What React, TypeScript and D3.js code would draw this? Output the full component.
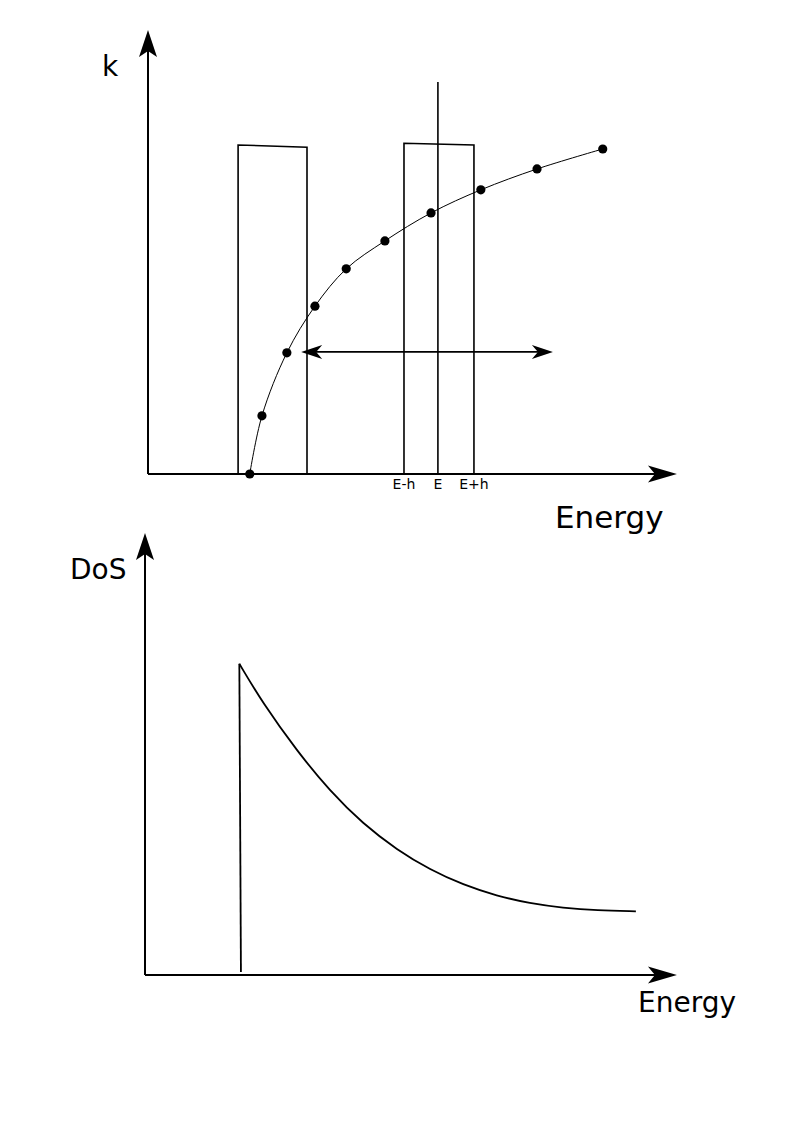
import React from 'react'
import * as d3 from 'd3'

// k(E) dispersion samples (energy, k)
const bandEnergy = [1.92, 2.15, 2.62, 3.15, 3.74, 4.47, 5.34, 6.28, 7.34, 8.58]
const bandK = [0, 1.31, 2.73, 3.78, 4.62, 5.25, 5.88, 6.4, 6.87, 7.32]

// the two energy windows drawn as open boxes
const windowLeft = [1.7, 4.83]
const windowRight = [3.0, 6.15]
const windowTopL = [7.41, 7.45]
const windowTopR = [7.36, 7.41]

const eLine = { at: 5.47, top: 8.83 }
const windowTicks = ['E-h', 'E', 'E+h']
const windowTickAt = [4.83, 5.47, 6.15]

const sweepArrow = { from: 2.89, to: 7.64, k: 2.75 }

// density of states samples (energy, DoS)
const dosEnergy = [1.77, 2.21, 2.85, 3.47, 4.09, 4.73, 5.35, 5.97, 6.6, 7.22, 7.84, 8.48, 9.21]
const dosValue = [7.04, 6.15, 5.07, 4.16, 3.42, 2.83, 2.38, 2.04, 1.79, 1.62, 1.52, 1.46, 1.44]
const dosEdge = { e: 1.8, v: 0.07 }

const font = 'DejaVu Sans, sans-serif'

// concave arrowhead, tip at (tx,ty) pointing in direction ang (radians)
function head(tx: number, ty: number, ang: number, len: number, half: number, notch: number) {
  const c = Math.cos(ang), s = Math.sin(ang)
  const p = (a: number, b: number) => [tx + a * c - b * s, ty + a * s + b * c]
  const pts = [p(0, 0), p(-len, -half), p(-notch, 0), p(-len, half)]
  return 'M' + pts.map(q => q.join(',')).join('L') + 'Z'
}

function TopChart() {
  const x = d3.scaleLinear().domain([0, 10]).range([148, 678])
  const y = d3.scaleLinear().domain([0, 10]).range([474, 30])

  const pts = bandEnergy.map((e, i) => [e, bandK[i]] as [number, number])
  const curve = d3.line<[number, number]>()
    .x(d => x(d[0]))
    .y(d => y(d[1]))
    .curve(d3.curveCatmullRom.alpha(0.5))(pts)

  return (
    <g>
      {/* axes */}
      <line x1={x(0)} y1={y(0)} x2={x(0)} y2={y(10) + 20} stroke="#000" strokeWidth={2} />
      <path d={head(x(0), y(10), -Math.PI / 2, 27, 9, 21)} fill="#000" />
      <line x1={x(0)} y1={y(0)} x2={x(10) - 20} y2={y(0)} stroke="#000" strokeWidth={2} />
      <path d={head(x(9.98), y(0), 0, 29, 8.5, 22)} fill="#000" />

      {/* windows */}
      {windowLeft.map((l, i) => (
        <path key={i}
          d={`M${x(l)},${y(0)}L${x(l)},${y(windowTopL[i])}L${x(windowRight[i])},${y(windowTopR[i])}L${x(windowRight[i])},${y(0)}`}
          fill="none" stroke="#000" strokeWidth={1.6} />
      ))}
      <line x1={x(eLine.at)} y1={y(0)} x2={x(eLine.at)} y2={y(eLine.top)} stroke="#000" strokeWidth={1.6} />
      {windowTicks.map((t, i) => (
        <text key={t} x={x(windowTickAt[i])} y={489} textAnchor="middle"
          fontFamily={font} fontSize={14}>{t}</text>
      ))}

      {/* sweep arrow */}
      <line x1={x(sweepArrow.from) + 10} y1={y(sweepArrow.k)} x2={x(sweepArrow.to) - 10} y2={y(sweepArrow.k)}
        stroke="#000" strokeWidth={1.6} />
      <path d={head(x(sweepArrow.from), y(sweepArrow.k), Math.PI, 21, 7, 15)} fill="#000" />
      <path d={head(x(sweepArrow.to), y(sweepArrow.k), 0, 21, 7, 15)} fill="#000" />

      {/* dispersion */}
      <path d={curve || ''} fill="none" stroke="#000" strokeWidth={1} />
      {pts.map((d, i) => (
        <circle key={i} cx={x(d[0])} cy={y(d[1])} r={4.6} fill="#000" />
      ))}

      <text x={102} y={76} fontFamily={font} fontSize={28}>k</text>
      <text x={555} y={528} fontFamily={font} fontSize={31}>Energy</text>
    </g>
  )
}

function BottomChart() {
  const x = d3.scaleLinear().domain([0, 10]).range([145, 678])
  const y = d3.scaleLinear().domain([0, 10]).range([975, 533])

  const pts = dosEnergy.map((e, i) => [e, dosValue[i]] as [number, number])
  const curve = d3.line<[number, number]>()
    .x(d => x(d[0]))
    .y(d => y(d[1]))
    .curve(d3.curveBasis)(pts)

  return (
    <g>
      <line x1={x(0)} y1={y(0)} x2={x(0)} y2={y(10) + 20} stroke="#000" strokeWidth={2} />
      <path d={head(x(0), y(10), -Math.PI / 2, 27, 9, 21)} fill="#000" />
      <line x1={x(0)} y1={y(0)} x2={x(10) - 20} y2={y(0)} stroke="#000" strokeWidth={2} />
      <path d={head(x(9.98), y(0), 0, 29, 8.5, 22)} fill="#000" />

      <line x1={x(dosEdge.e)} y1={y(dosEdge.v)} x2={x(dosEnergy[0])} y2={y(dosValue[0])}
        stroke="#000" strokeWidth={1.8} />
      <path d={curve || ''} fill="none" stroke="#000" strokeWidth={1.8} />

      <text x={70} y={579} fontFamily={font} fontSize={28}>DoS</text>
      <text x={638} y={1012} fontFamily={font} fontSize={28}>Energy</text>
    </g>
  )
}

export default function App() {
  return (
    <svg width={794} height={1123} style={{ position: 'absolute', left: 0, top: 0, background: '#fff' }}>
      <TopChart />
      <BottomChart />
    </svg>
  )
}
